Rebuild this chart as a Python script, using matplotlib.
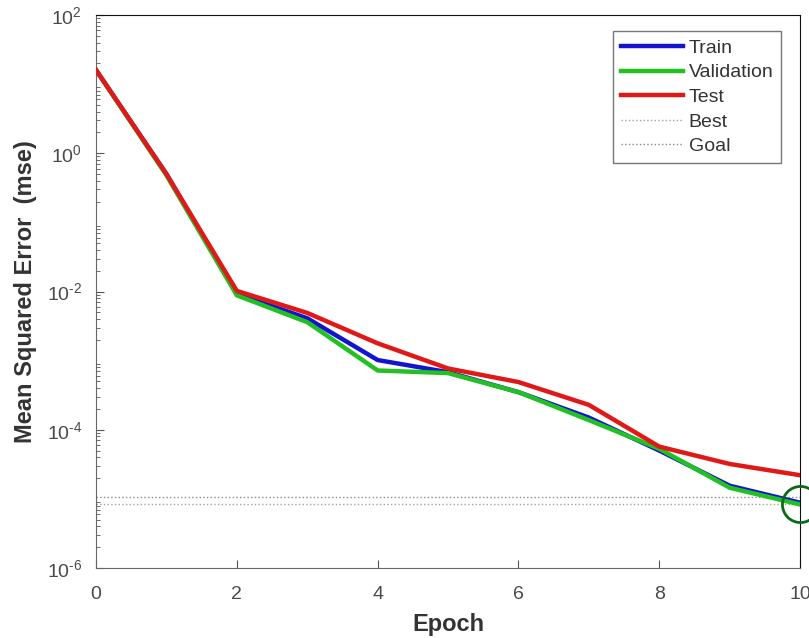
import matplotlib
matplotlib.use("Agg")
import matplotlib.pyplot as plt
from matplotlib.ticker import LogLocator, FixedLocator, NullFormatter

plt.rcParams['font.family'] = ['Liberation Sans', 'DejaVu Sans']
plt.rcParams['mathtext.fontset'] = 'custom'
plt.rcParams['mathtext.rm'] = 'Liberation Sans'

epochs = [0, 1, 2, 3, 4, 5, 6, 7, 8, 9, 10]
train = [16, 0.5, 0.0092, 0.0041, 0.00102, 0.00068, 0.00035, 0.000150, 5.0e-5, 1.55e-5, 8.8e-6]
validation = [16, 0.48, 0.0088, 0.0036, 0.00072, 0.00066, 0.00035, 0.000138, 5.3e-5, 1.45e-5, 8.3e-6]
test = [16, 0.5, 0.0102, 0.0049, 0.00178, 0.00077, 0.00049, 0.000229, 5.7e-5, 3.2e-5, 2.2e-5]
best_value = 8.3e-6
best_epoch = 10
goal_value = 1.06e-5
x_ticks = [0, 2, 4, 6, 8, 10]
y_ticks = [1e-6, 1e-4, 1e-2, 1e0, 1e2]
y_tick_labels = [r'$\mathregular{10^{\text{-}6}}$', r'$\mathregular{10^{\text{-}4}}$',
                 r'$\mathregular{10^{\text{-}2}}$', r'$\mathregular{10^{0}}$',
                 r'$\mathregular{10^{2}}$']

fig = plt.figure(figsize=(8.09, 6.38), dpi=100)
ax = fig.add_axes([0.1187, 0.1097, 0.8703, 0.8668])

ax.plot(epochs, train, color='#1414d0', lw=3.2, label='Train', zorder=3)
ax.plot(epochs, validation, color='#22c022', lw=3.2, label='Validation', zorder=4)
ax.plot(epochs, test, color='#e01818', lw=3.2, label='Test', zorder=5)
ax.axhline(best_value, color='#9aa89a', lw=1, ls=':', label='Best', zorder=2)
ax.axhline(goal_value, color='#8a8a8a', lw=1, ls=':', label='Goal', zorder=2)
ax.plot([best_epoch], [best_value], marker='o', ms=26, mfc='none', mec='#0a6a1a',
        mew=2, ls='none', zorder=6, clip_on=False)

ax.set_yscale('log')
ax.set_xlim(0, 10)
ax.set_ylim(1e-6, 1e2)
ax.xaxis.set_major_locator(FixedLocator(x_ticks))
ax.yaxis.set_major_locator(FixedLocator(y_ticks))
ax.yaxis.set_minor_locator(LogLocator(base=10, subs=range(2, 10), numticks=50))
ax.yaxis.set_minor_formatter(NullFormatter())
ax.set_yticklabels(y_tick_labels)

ax.tick_params(axis='both', which='both', direction='in', colors='#555555',
               labelcolor='#4a4a4a', labelsize=14)
ax.tick_params(axis='x', which='major', length=6, pad=13)
ax.tick_params(axis='y', which='major', length=6, pad=10)
ax.tick_params(axis='y', which='minor', length=3)
ax.tick_params(axis='x', which='minor', length=0)

for side in ['left', 'bottom']:
    ax.spines[side].set_color('#666666')
for side in ['top', 'right']:
    ax.spines[side].set_color('#111111')

ax.set_xlabel('Epoch', fontsize=17, fontweight='bold', color='#333333', labelpad=7)
ax.set_ylabel('Mean Squared Error  (mse)', fontsize=17, fontweight='bold', color='#333333', labelpad=7)

leg = ax.legend(loc='upper right', bbox_to_anchor=(0.987, 0.988), fontsize=14,
                frameon=True, fancybox=False, edgecolor='#777777', handlelength=3.2,
                handletextpad=0.3, borderpad=0.4, labelspacing=0.36, framealpha=1)
for t in leg.get_texts():
    t.set_color('#333333')

fig.savefig('out.png', dpi=100)
